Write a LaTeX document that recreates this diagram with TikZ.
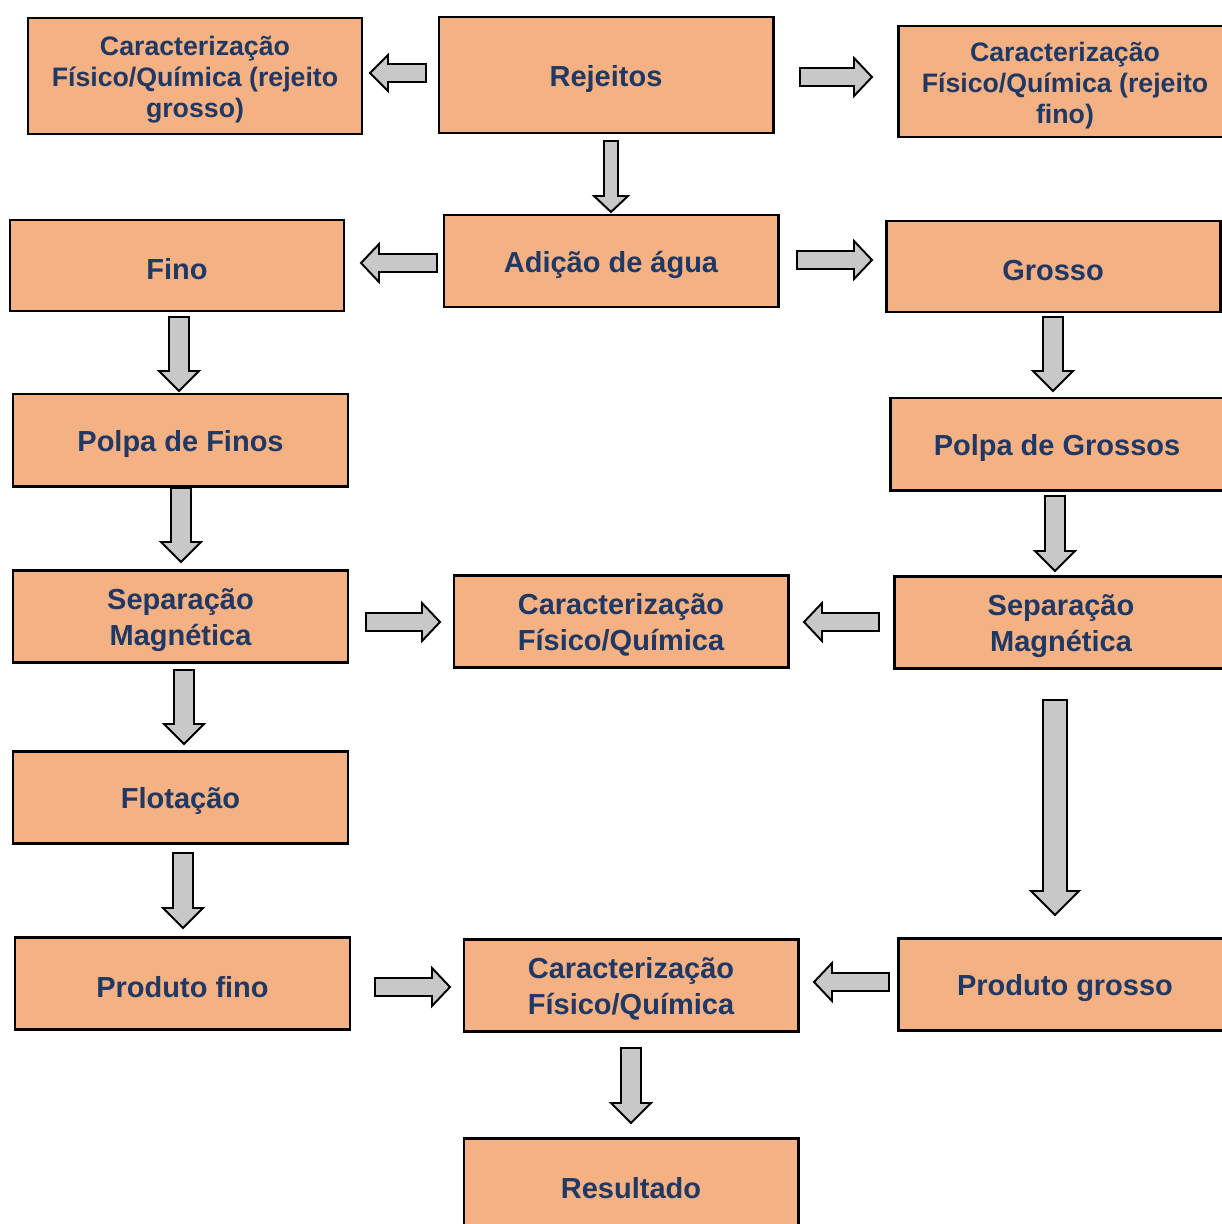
\documentclass[tikz,border=0pt]{standalone}
\usepackage{fontspec}
\setmainfont{Liberation Sans}
\definecolor{boxfill}{RGB}{244,177,131}
\definecolor{txtblue}{RGB}{31,56,100}
\definecolor{arrfill}{RGB}{200,200,200}
\tikzset{
  box/.style={draw=black, line width=1.7pt, fill=boxfill, inner sep=0pt},
  txt/.style={inner sep=0pt, align=center, text=txtblue},
  tone/.style={txt, font=\fontsize{16.5}{17.8}\selectfont\bfseries},
  ttwo/.style={txt, font=\fontsize{16.5}{20.4}\selectfont\bfseries},
  tthree/.style={txt, font=\fontsize{15.2}{17.6}\selectfont\bfseries},
  barrow/.style={draw=black, line width=1.1pt, fill=arrfill, line join=miter}
}
% box: name, x1, y1, x2, y2, text style, text
\newcommand\bx[7]{\node[box, minimum width={(#4-#2)*0.02cm}, minimum height={(#5-#3)*0.02cm}] (#1) at ({(#2+#4)/2},{(#3+#5)/2}) {};
  \node[#6] (#1-t) at ([yshift=-0.08cm]#1.center) {#7};}
% horizontal block arrow: tail x, y, tip x, shaft half, head half, head length
\newcommand\harr[6]{\pgfmathsetmacro\sgn{(#3>#1)?1:-1}\pgfmathsetmacro\hb{#3-\sgn*#6}
  \draw[barrow] (#1,#2-#4) -- (\hb,#2-#4) -- (\hb,#2-#5) -- (#3,#2) -- (\hb,#2+#5) -- (\hb,#2+#4) -- (#1,#2+#4) -- cycle;}
% vertical block arrow: x, tail y, tip y, shaft half, head half, head length
\newcommand\varr[6]{\pgfmathsetmacro\hb{#3-#6}
  \draw[barrow] (#1-#4,#2) -- (#1-#4,\hb) -- (#1-#5,\hb) -- (#1,#3) -- (#1+#5,\hb) -- (#1+#4,\hb) -- (#1+#4,#2) -- cycle;}
\begin{document}
\begin{tikzpicture}[x=0.02cm,y=-0.02cm]
\useasboundingbox (0,0) rectangle (1222,1224);
\fill[white] (0,0) rectangle (1222,1224);
\bx{cgrosso}{28}{18}{362}{134}{tthree}{Caracterização\\Físico/Química (rejeito\\grosso)}
\bx{rej}{439}{17}{773}{133}{tone}{Rejeitos}
\bx{cfino}{898}{26}{1232}{137}{tthree}{Caracterização\\Físico/Química (rejeito\\fino)}
\bx{fino}{10}{220}{344}{311}{tone}{Fino}
\bx{agua}{444}{215}{778}{307}{tone}{Adição de água}
\bx{grosso}{886}{221}{1220}{312}{tone}{Grosso}
\bx{pfinos}{13}{394}{348}{486}{tone}{Polpa de Finos}
\bx{pgrossos}{890}{398}{1224}{490}{tone}{Polpa de Grossos}
\bx{sml}{13}{570}{348}{662}{ttwo}{Separação\\Magnética}
\bx{cmid}{454}{575}{788}{667}{ttwo}{Caracterização\\Físico/Química}
\bx{smr}{894}{576}{1228}{668}{ttwo}{Separação\\Magnética}
\bx{flot}{13}{751}{348}{843}{tone}{Flotação}
\bx{pfino}{15}{937}{350}{1029}{tone}{Produto fino}
\bx{cbot}{464}{939}{798}{1031}{ttwo}{Caracterização\\Físico/Química}
\bx{pgrosso}{898}{938}{1232}{1030}{tone}{Produto grosso}
\bx{res}{464}{1138}{798}{1230}{tone}{Resultado}
% horizontal arrows
\harr{426}{73}{370}{9}{18}{18}
\harr{800}{77}{872}{9}{19}{18}
\harr{437}{263}{361}{9}{19}{18}
\harr{797}{260}{872}{9}{19}{18}
\harr{366}{622}{440}{9}{19}{18}
\harr{879}{622}{804}{9}{19}{18}
\harr{375}{987}{450}{9}{19}{18}
\harr{889}{982}{814}{9}{19}{18}
% vertical arrows
\varr{611}{141}{212}{7}{17}{16}
\varr{179}{317}{391}{10}{20}{20}
\varr{181}{488}{562}{10}{20}{20}
\varr{184}{670}{744}{10}{20}{20}
\varr{183}{853}{928}{10}{20}{20}
\varr{1053}{317}{391}{10}{20}{20}
\varr{1055}{496}{571}{10}{20}{20}
\varr{1055}{700}{915}{12}{24}{24}
\varr{631}{1048}{1123}{10}{20}{20}
\end{tikzpicture}
\end{document}
